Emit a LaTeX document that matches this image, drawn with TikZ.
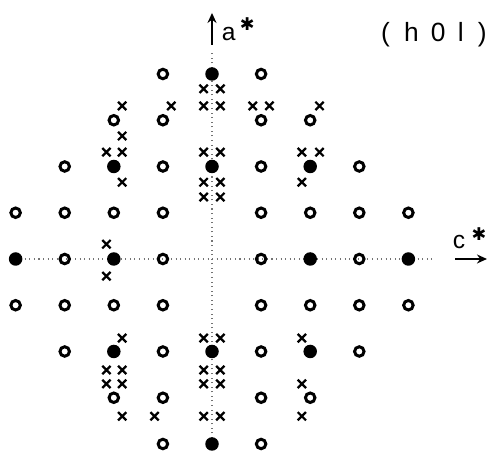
\documentclass[tikz,border=0pt]{standalone}
\usepackage{fontspec}
\setmainfont{Liberation Sans}
\newfontfamily\symfont{DejaVu Sans}
\usepackage{tikz}
\usetikzlibrary{arrows.meta,shapes.misc}
\tikzset{
  openspot/.style={circle, draw=black, line width=1.7pt, inner sep=0pt, minimum size=0.19cm},
  fullspot/.style={circle, fill=black, inner sep=0pt, minimum size=0.27cm},
  xspot/.style={cross out, draw=black, line width=1.3pt, inner sep=0pt, minimum size=0.12cm},
  axisline/.style={dotted, black!55, line width=0.6pt},
  axisarr/.style={-{Stealth[length=2mm,width=1.8mm]}, line width=1.3pt},
  lbl/.style={font=\fontsize{14}{16}\selectfont, inner sep=0pt},
  star/.style={font=\symfont\fontsize{10}{11}\selectfont, inner sep=0pt},
}

\begin{document}
\begin{tikzpicture}[x=0.982cm, y=0.925cm]
  \useasboundingbox (-4.318,-4.216) rectangle (5.764,5.6);
  % axes
  \coordinate (atop) at (0,4.45);
  \coordinate (abot) at (0,-3.87);
  \coordinate (cleft) at (-4,0);
  \coordinate (cright) at (4.48,0);
  \draw[axisline] (abot) -- (atop);
  \draw[axisline] (cleft) -- (cright);
  \coordinate (a0) at (0,4.63);
  \coordinate (a1) at (0,5.32);
  \coordinate (c0) at (4.95,0);
  \coordinate (c1) at (5.60,0);
  \draw[axisarr] (a0) -- (a1);
  \draw[axisarr] (c0) -- (c1);
  \node[lbl] (alab) at (0.34,4.86) {a};
  \node[star] (astar) at (0.72,5.08) {✱};
  \node[lbl] (clab) at (5.03,0.37) {c};
  \node[star] (cstar) at (5.44,0.54) {✱};
  \node[lbl, font=\fontsize{15}{17}\selectfont] (title) at (4.52,4.84)
    {(\hspace{8pt}h\hspace{7pt}0\hspace{7pt}l\hspace{8pt})};
  % strong reflections
  \foreach \l/\h [count=\n] in {0/4,-2/2,0/2,2/2,-4/0,-2/0,2/0,4/0,-2/-2,0/-2,2/-2,0/-4}
    \node[fullspot] (f\n) at (\l,\h) {};
  % weak reflections
  \foreach \l/\h [count=\n] in {-1/4,1/4,
      -2/3,-1/3,1/3,2/3,
      -3/2,-1/2,1/2,3/2,
      -4/1,-3/1,-2/1,-1/1,1/1,2/1,3/1,4/1,
      -3/0,-1/0,1/0,3/0,
      -4/-1,-3/-1,-2/-1,-1/-1,1/-1,2/-1,3/-1,4/-1,
      -3/-2,-1/-2,1/-2,3/-2,
      -2/-3,-1/-3,1/-3,2/-3,
      -1/-4,1/-4}
    \node[openspot] (o\n) at (\l,\h) {};
  % diffuse spots
  \foreach \l/\h [count=\n] in {-0.17/3.68,0.17/3.68,
      -1.83/3.31,-0.83/3.31,-0.17/3.31,0.17/3.31,0.83/3.31,1.17/3.31,2.19/3.31,
      -1.83/2.66,
      -2.15/2.31,-1.83/2.31,-0.17/2.31,0.17/2.31,1.83/2.31,2.19/2.31,
      -1.83/1.66,-0.17/1.66,0.17/1.66,1.83/1.66,
      -0.17/1.34,0.17/1.34,
      -2.15/0.32,-2.15/-0.37,
      -1.83/-1.71,-0.17/-1.71,0.17/-1.71,1.83/-1.71,
      -2.15/-2.40,-1.83/-2.40,-0.17/-2.40,0.17/-2.40,
      -2.15/-2.70,-1.83/-2.70,-0.17/-2.70,0.17/-2.70,1.83/-2.70,
      -1.83/-3.40,-1.17/-3.40,-0.17/-3.40,0.17/-3.40,1.83/-3.40}
    \node[xspot] (x\n) at (\l,\h) {};
\end{tikzpicture}
\end{document}
